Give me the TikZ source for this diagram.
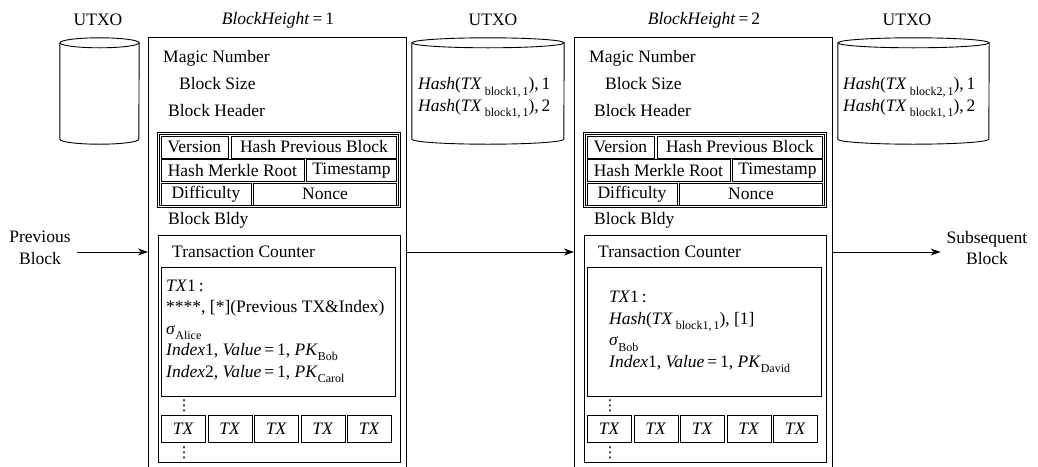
\documentclass[tikz,border=0pt]{standalone}
\usepackage{fontspec}
\setmainfont{Liberation Serif}
\newfontfamily\symfont{DejaVu Sans}
\usetikzlibrary{arrows.meta}

\newcommand\lsub[1]{\raisebox{-0.3em}{\fontsize{12}{12}\selectfont #1}}
\newcommand\utxo[2]{%
	\draw [ln] (#1.north west) -- (#1.south west) arc[start angle=180,end angle=360,x radius=#2,y radius=5pt] -- (#1.north east);
	\draw [ln] (#1.north) ellipse [x radius=#2,y radius=5pt];}

\tikzset{
	ln/.style={line width=0.9pt},
	box/.style={draw,line width=0.9pt,inner sep=0pt,anchor=north west},
	cell/.style={box,minimum height=22pt},
	txbox/.style={box,minimum width=44pt,minimum height=27pt},
	lbl/.style={inner sep=0pt,anchor=west},
	more/.style={inner sep=0pt,font=\symfont\fontsize{15}{15}\selectfont},
	flow/.style={-{Stealth[length=10pt,width=7pt,inset=3pt]},line width=0.9pt}
}

\begin{document}
\fontsize{17.5}{21.5}\selectfont
\begin{tikzpicture}[x=1pt,y=-1pt]
	\useasboundingbox (0,0) rectangle (1038,466);
	\clip (0,0) rectangle (1038,466);
	% UTXO sets
	\node at (99.5,91) [minimum width=79pt,minimum height=96pt,inner sep=0pt] (u1) {};
	\node at (488,91) [minimum width=152pt,minimum height=96pt,inner sep=0pt] (u2) {};
	\node at (913.5,91) [minimum width=151pt,minimum height=96pt,inner sep=0pt] (u3) {};
	\utxo{u1}{39.5pt}
	\utxo{u2}{76pt}
	\utxo{u3}{75.5pt}
	\node at (98,20) (ul1) {UTXO};
	\node at (493,20) (ul2) {UTXO};
	\node at (907,20) (ul3) {UTXO};
	\node at (418,98) [lbl,align=left] (u2t) {\textit{Hash}(\textit{TX}\,\lsub{block1,\,1}),\,1\\\textit{Hash}(\textit{TX}\,\lsub{block1,\,1}),\,2};
	\node at (843,98) [lbl,align=left] (u3t) {\textit{Hash}(\textit{TX}\,\lsub{block2,\,1}),\,1\\\textit{Hash}(\textit{TX}\,\lsub{block1,\,1}),\,2};
	% blocks
	\foreach \b/\x in {1/148,2/574}{
	\begin{scope}[xshift=\x pt]
		\node at (0,37) [box,minimum width=258pt,minimum height=440pt] (blk\b) {};
		\node at (130,20) (bh\b) {\textit{BlockHeight}\,=\,\b};
		\node at (15,58) [lbl] (mag\b) {Magic Number};
		\node at (31,84) [lbl] (siz\b) {Block Size};
		\node at (20,111) [lbl] (hdr\b) {Block Header};
		\node at (10,133) [box,double,double distance=1.2pt,line width=0.6pt,minimum width=241pt,minimum height=73pt] (hf\b) {};
		\node at (12.5,135.5) [cell,minimum width=67pt] (ver\b) {Version};
		\node at (83,135.5) [cell,minimum width=165pt] (hpb\b) {Hash Previous Block};
		\node at (12.5,159) [cell,minimum width=143pt] (hmr\b) {Hash Merkle Root};
		\node at (158,159) [cell,minimum width=90pt] (ts\b) {Timestamp};
		\node at (12.5,182.5) [cell,minimum width=90pt] (dif\b) {Difficulty};
		\node at (105,182.5) [cell,minimum width=143pt] (non\b) {Nonce};
		\node at (20,220) [lbl] (bldy\b) {Block Bldy};
		\node at (9.5,235) [box,minimum width=242pt,minimum height=227pt] (body\b) {};
		\node at (24,252) [lbl] (tc\b) {Transaction Counter};
		\node at (13,267) [box,minimum width=234pt,minimum height=129pt] (tx\b) {};
		\node at (36,406) [more] (dt\b) {⋮};
		\foreach \i in {0,...,4}
			\node at ({13+46.5*\i},415) [txbox] (t\b\i) {\textit{TX}};
		\node at (36,453) [more] (db\b) {⋮};
	\end{scope}
	}
	\node at (166,331) [lbl,align=left] (tx1t) {\textit{TX}1\,:\\****, [*](Previous TX\&Index)\\\textit{σ}\lsub{Alice}\\\textit{Index}1, \textit{Value}\,=\,1, \textit{PK}\lsub{Bob}\\\textit{Index}2, \textit{Value}\,=\,1, \textit{PK}\lsub{Carol}};
	\node at (609,332) [lbl,align=left] (tx2t) {\textit{TX}1\,:\\\textit{Hash}(\textit{TX}\,\lsub{block1,\,1}), [1]\\\textit{σ}\lsub{Bob}\\\textit{Index}1, \textit{Value}\,=\,1, \textit{PK}\lsub{David}};
	% chain
	\node at (40,248) [align=center] (prev) {Previous\\Block};
	\node at (987,248) [align=center] (next) {Subsequent\\Block};
	\draw [flow] (prev.east |- tc1) -- (tc1 -| blk1.west);
	\draw [flow] (tc1 -| blk1.east) -- (tc2 -| blk2.west);
	\draw [flow] (tc2 -| blk2.east) -- (next.west |- tc2);
\end{tikzpicture}
\end{document}
